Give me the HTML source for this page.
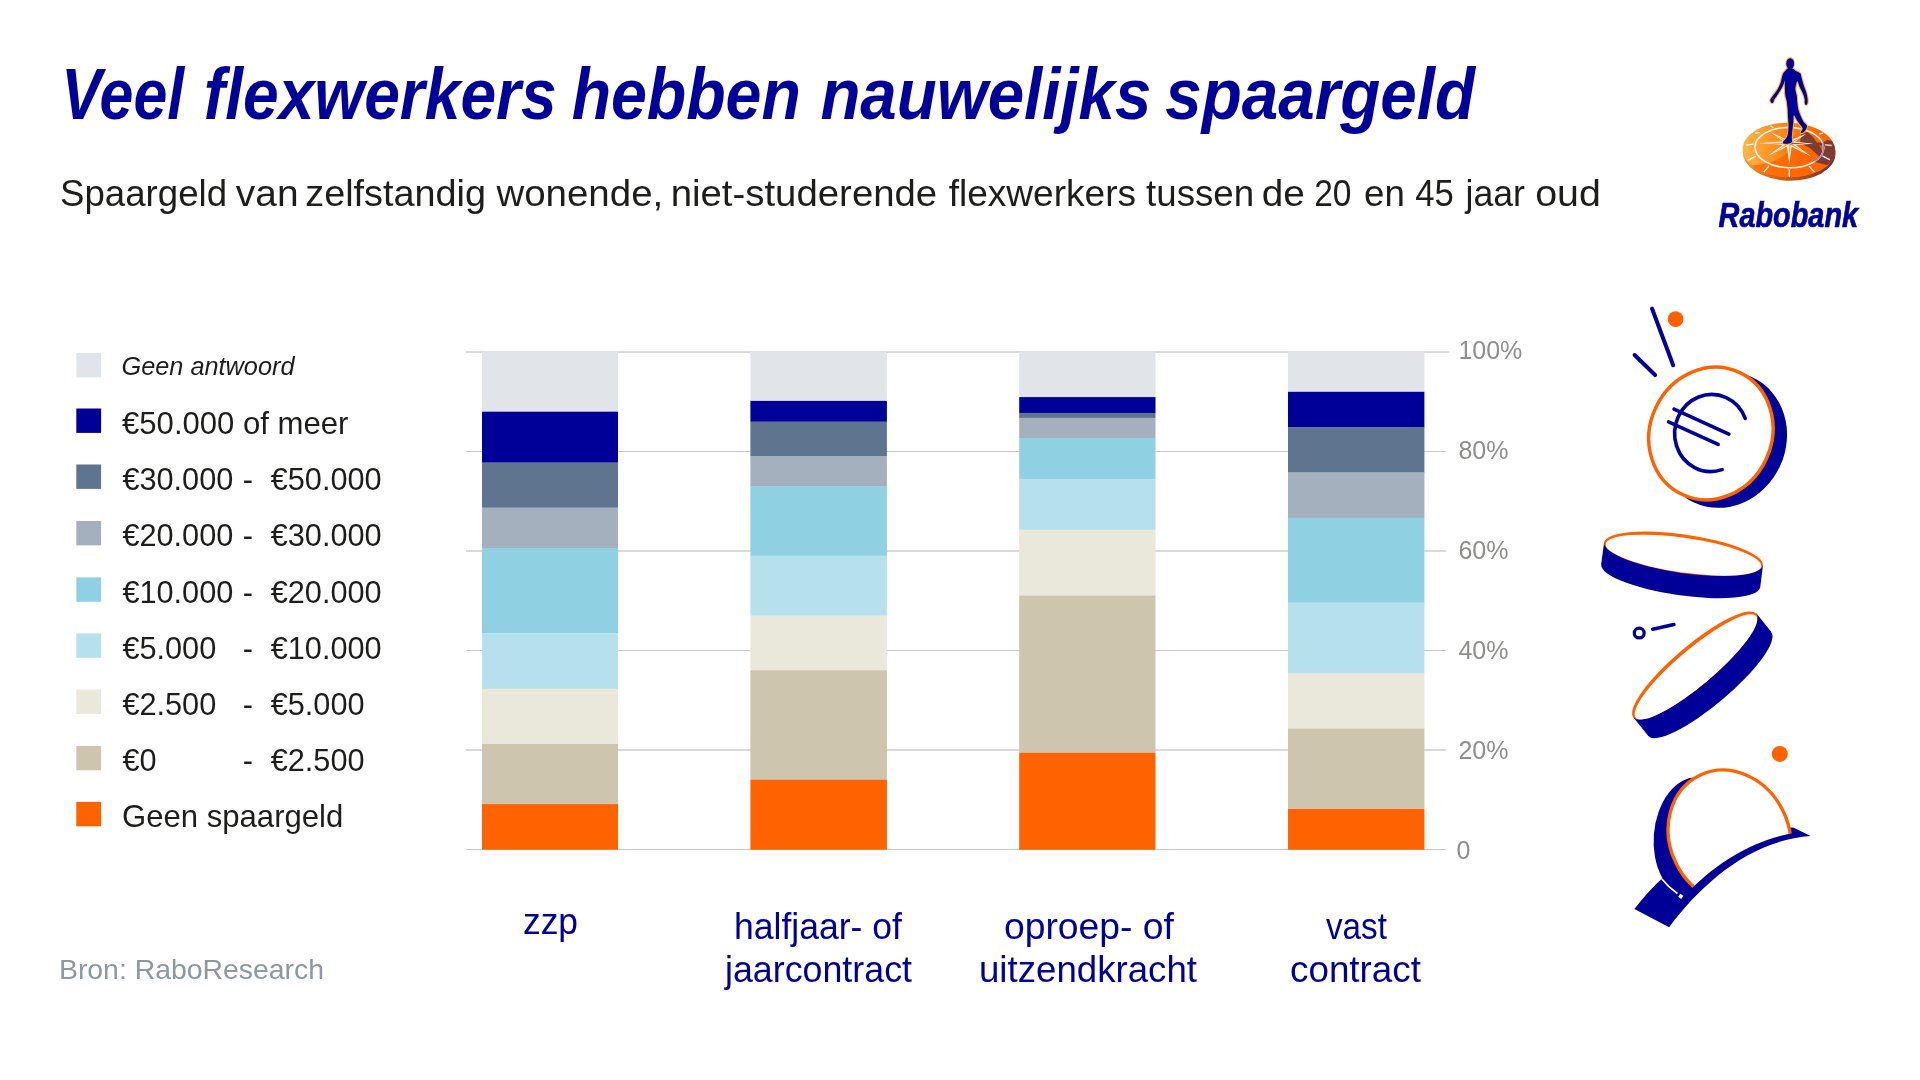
<!DOCTYPE html>
<html lang="nl">
<head>
<meta charset="utf-8">
<title>Veel flexwerkers hebben nauwelijks spaargeld</title>
<style>
  html, body { margin: 0; padding: 0; background: #ffffff; }
  body { width: 1920px; height: 1080px; overflow: hidden; }
  svg { display: block; will-change: transform; }
  text { font-family: "Liberation Sans", sans-serif; }
</style>
</head>
<body>
<svg width="1920" height="1080" viewBox="0 0 1920 1080">
<rect x="0" y="0" width="1920" height="1080" fill="#ffffff"/>

<!-- title -->
<g font-size="71.5" font-weight="bold" font-style="italic" fill="#000099">
<text x="61.28" y="118.7" textLength="122.88" lengthAdjust="spacingAndGlyphs">Veel</text>
<text x="203.87" y="118.7" textLength="352.76" lengthAdjust="spacingAndGlyphs">flexwerkers</text>
<text x="571.68" y="118.7" textLength="229.06" lengthAdjust="spacingAndGlyphs">hebben</text>
<text x="820.39" y="118.7" textLength="331.03" lengthAdjust="spacingAndGlyphs">nauwelijks</text>
<text x="1165.20" y="118.7" textLength="309.81" lengthAdjust="spacingAndGlyphs">spaargeld</text>
</g>
<g font-size="36.8" fill="#1d1d1b">
<text x="60.06" y="206.3" textLength="166.98" lengthAdjust="spacingAndGlyphs">Spaargeld</text>
<text x="235.88" y="206.3" textLength="62.64" lengthAdjust="spacingAndGlyphs">van</text>
<text x="305.27" y="206.3" textLength="180.70" lengthAdjust="spacingAndGlyphs">zelfstandig</text>
<text x="496.40" y="206.3" textLength="166.84" lengthAdjust="spacingAndGlyphs">wonende,</text>
<text x="670.67" y="206.3" textLength="266.56" lengthAdjust="spacingAndGlyphs">niet-studerende</text>
<text x="948.74" y="206.3" textLength="187.26" lengthAdjust="spacingAndGlyphs">flexwerkers</text>
<text x="1146.07" y="206.3" textLength="108.10" lengthAdjust="spacingAndGlyphs">tussen</text>
<text x="1261.76" y="206.3" textLength="43.07" lengthAdjust="spacingAndGlyphs">de</text>
<text x="1314.13" y="206.3" textLength="37.31" lengthAdjust="spacingAndGlyphs">20</text>
<text x="1364.10" y="206.3" textLength="40.79" lengthAdjust="spacingAndGlyphs">en</text>
<text x="1415.15" y="206.3" textLength="38.61" lengthAdjust="spacingAndGlyphs">45</text>
<text x="1465.56" y="206.3" textLength="59.44" lengthAdjust="spacingAndGlyphs">jaar</text>
<text x="1535.18" y="206.3" textLength="65.67" lengthAdjust="spacingAndGlyphs">oud</text>
</g>
<!-- gridlines -->
<g stroke-width="1">
<line x1="466" y1="352.0" x2="1449" y2="352.0" stroke="#b4b4b4"/>
<line x1="466" y1="451.5" x2="1445.8" y2="451.5" stroke="#c8c8c8"/>
<line x1="466" y1="551.0" x2="1445.8" y2="551.0" stroke="#b4b4b4"/>
<line x1="466" y1="650.5" x2="1445.8" y2="650.5" stroke="#c8c8c8"/>
<line x1="466" y1="750.0" x2="1445.8" y2="750.0" stroke="#b4b4b4"/>
<line x1="466" y1="849.5" x2="1445.8" y2="849.5" stroke="#c8c8c8"/>
</g>
<!-- bars -->
<g shape-rendering="geometricPrecision">
<rect x="482.0" y="351.6" width="136.0" height="60.4" fill="#e1e5ea"/>
<rect x="482.0" y="411.7" width="136.0" height="51.1" fill="#000099"/>
<rect x="482.0" y="462.5" width="136.0" height="45.4" fill="#5f748e"/>
<rect x="482.0" y="507.6" width="136.0" height="40.7" fill="#a5b0bf"/>
<rect x="482.0" y="548.0" width="136.0" height="85.5" fill="#90d0e3"/>
<rect x="482.0" y="633.2" width="136.0" height="55.9" fill="#b7e0ed"/>
<rect x="482.0" y="688.8" width="136.0" height="55.5" fill="#eae7db"/>
<rect x="482.0" y="744.0" width="136.0" height="60.4" fill="#cdc5ad"/>
<rect x="482.0" y="804.1" width="136.0" height="45.6" fill="#ff6200"/>
<rect x="750.4" y="351.6" width="136.5" height="49.6" fill="#e1e5ea"/>
<rect x="750.4" y="400.9" width="136.5" height="21.0" fill="#000099"/>
<rect x="750.4" y="421.6" width="136.5" height="34.7" fill="#5f748e"/>
<rect x="750.4" y="456.0" width="136.5" height="30.4" fill="#a5b0bf"/>
<rect x="750.4" y="486.1" width="136.5" height="69.9" fill="#90d0e3"/>
<rect x="750.4" y="555.7" width="136.5" height="60.2" fill="#b7e0ed"/>
<rect x="750.4" y="615.6" width="136.5" height="55.0" fill="#eae7db"/>
<rect x="750.4" y="670.3" width="136.5" height="109.8" fill="#cdc5ad"/>
<rect x="750.4" y="779.8" width="136.5" height="69.9" fill="#ff6200"/>
<rect x="1019.2" y="351.6" width="136.3" height="45.8" fill="#e1e5ea"/>
<rect x="1019.2" y="397.1" width="136.3" height="16.1" fill="#000099"/>
<rect x="1019.2" y="412.9" width="136.3" height="5.2" fill="#5f748e"/>
<rect x="1019.2" y="417.8" width="136.3" height="20.5" fill="#a5b0bf"/>
<rect x="1019.2" y="438.0" width="136.3" height="41.2" fill="#90d0e3"/>
<rect x="1019.2" y="478.9" width="136.3" height="51.1" fill="#b7e0ed"/>
<rect x="1019.2" y="529.7" width="136.3" height="66.3" fill="#eae7db"/>
<rect x="1019.2" y="595.7" width="136.3" height="157.5" fill="#cdc5ad"/>
<rect x="1019.2" y="752.9" width="136.3" height="96.8" fill="#ff6200"/>
<rect x="1288.0" y="351.6" width="136.4" height="40.5" fill="#e1e5ea"/>
<rect x="1288.0" y="391.8" width="136.4" height="35.6" fill="#000099"/>
<rect x="1288.0" y="427.1" width="136.4" height="45.6" fill="#5f748e"/>
<rect x="1288.0" y="472.4" width="136.4" height="45.6" fill="#a5b0bf"/>
<rect x="1288.0" y="517.7" width="136.4" height="85.2" fill="#90d0e3"/>
<rect x="1288.0" y="602.6" width="136.4" height="71.1" fill="#b7e0ed"/>
<rect x="1288.0" y="673.4" width="136.4" height="55.5" fill="#eae7db"/>
<rect x="1288.0" y="728.6" width="136.4" height="80.7" fill="#cdc5ad"/>
<rect x="1288.0" y="809.0" width="136.4" height="40.7" fill="#ff6200"/>
</g>
<!-- y axis labels -->
<g font-size="25" fill="#8e8e8c">
<text x="1458.4" y="359.3">100%</text>
<text x="1458.4" y="459.3">80%</text>
<text x="1458.4" y="559.3">60%</text>
<text x="1458.4" y="659.3">40%</text>
<text x="1458.4" y="759.3">20%</text>
<text x="1456.6" y="859.3">0</text>
</g>
<!-- x axis labels -->
<g font-size="36.5" fill="#000099">
<text x="522.95" y="934.2" textLength="55.12" lengthAdjust="spacingAndGlyphs">zzp</text>
<text x="733.98" y="939.4" textLength="168.02" lengthAdjust="spacingAndGlyphs">halfjaar- of</text>
<text x="724.98" y="981.8" textLength="187.02" lengthAdjust="spacingAndGlyphs">jaarcontract</text>
<text x="1003.98" y="939.4" textLength="170.01" lengthAdjust="spacingAndGlyphs">oproep- of</text>
<text x="978.98" y="981.8" textLength="218.02" lengthAdjust="spacingAndGlyphs">uitzendkracht</text>
<text x="1325.98" y="939.4" textLength="61.03" lengthAdjust="spacingAndGlyphs">vast</text>
<text x="1289.99" y="981.8" textLength="131.02" lengthAdjust="spacingAndGlyphs">contract</text>
</g>
<!-- legend -->
<rect x="76.3" y="353.0" width="24.8" height="24.4" fill="#e1e5ea"/>
<rect x="76.3" y="408.5" width="24.8" height="24.4" fill="#000099"/>
<rect x="76.3" y="464.5" width="24.8" height="24.4" fill="#5f748e"/>
<rect x="76.3" y="521.0" width="24.8" height="24.4" fill="#a5b0bf"/>
<rect x="76.3" y="577.4" width="24.8" height="24.4" fill="#90d0e3"/>
<rect x="76.3" y="633.4" width="24.8" height="24.4" fill="#b7e0ed"/>
<rect x="76.3" y="689.6" width="24.8" height="24.4" fill="#eae7db"/>
<rect x="76.3" y="745.9" width="24.8" height="24.4" fill="#cdc5ad"/>
<rect x="76.3" y="801.9" width="24.8" height="24.4" fill="#ff6200"/>
<g font-size="30.7" fill="#1d1d1b">
<text x="121.5" y="375.3" font-size="25.3" font-style="italic">Geen antwoord</text>
<text x="122.0" y="433.6" font-size="31.1">€50.000 of meer</text>
<text x="122.4" y="489.6">€30.000</text>
<text x="242.8" y="489.6">-</text>
<text x="270.7" y="489.6">€50.000</text>
<text x="122.4" y="546.1">€20.000</text>
<text x="242.8" y="546.1">-</text>
<text x="270.7" y="546.1">€30.000</text>
<text x="122.4" y="602.5">€10.000</text>
<text x="242.8" y="602.5">-</text>
<text x="270.7" y="602.5">€20.000</text>
<text x="122.4" y="658.5">€5.000</text>
<text x="242.8" y="658.5">-</text>
<text x="270.7" y="658.5">€10.000</text>
<text x="122.4" y="714.7">€2.500</text>
<text x="242.8" y="714.7">-</text>
<text x="270.7" y="714.7">€5.000</text>
<text x="122.4" y="771.0">€0</text>
<text x="242.8" y="771.0">-</text>
<text x="270.7" y="771.0">€2.500</text>
<text x="122.0" y="827.0" font-size="31.1">Geen spaargeld</text>
</g>
<text id="bron" x="58.96" y="979.3" font-size="28" fill="#8d989f" textLength="265.05" lengthAdjust="spacingAndGlyphs">Bron: RaboResearch</text>
<!-- ===== Rabobank logo ===== -->
<defs>
  <linearGradient id="discG" x1="0" y1="0" x2="1" y2="0">
    <stop offset="0" stop-color="#ffb84e"/>
    <stop offset="0.3" stop-color="#ff9426"/>
    <stop offset="0.6" stop-color="#ff7208"/>
    <stop offset="1" stop-color="#ff6400"/>
  </linearGradient>
  <linearGradient id="rimG" x1="0" y1="0" x2="1" y2="0">
    <stop offset="0" stop-color="#f39a3c"/>
    <stop offset="0.35" stop-color="#d9620f"/>
    <stop offset="0.7" stop-color="#a8481c"/>
    <stop offset="1" stop-color="#5e2c44"/>
  </linearGradient>
  <clipPath id="discClip"><ellipse cx="810" cy="507" rx="736" ry="432" transform="rotate(1.6 810 507)"/></clipPath>
</defs>
<g transform="translate(1738 118) scale(0.062963)">
  <ellipse cx="812" cy="556" rx="736" ry="440" transform="rotate(1.6 812 556)" fill="url(#rimG)"/>
  <ellipse cx="810" cy="507" rx="736" ry="432" transform="rotate(1.6 810 507)" fill="url(#discG)"/>
  <g clip-path="url(#discClip)">
    <!-- saturated lower area (gloss boundary) -->
    <path d="M60 760 C420 760 640 690 760 560 L1000 470 L1600 470 L1600 1000 L60 1000 Z" fill="#ff6400" opacity="0.75"/>
    <!-- man shadow -->
    <path d="M985 395 L1005 250 L1100 222 L1185 295 L1255 395 L1385 372 L1410 345 L1500 365 L1560 520 L1520 700 L1400 748 L1200 690 L1290 610 L1150 485 Z" fill="#6d3638" opacity="0.88"/>
    <path d="M1290 425 L1390 470 L1345 545 Z" fill="#ff6a00" opacity="0.8"/>
  </g>
  <!-- ring -->
  <ellipse cx="815" cy="470" rx="545" ry="320" transform="rotate(1.2 815 470)" fill="none" stroke="#ffffff" stroke-width="25" opacity="0.95"/>
  <path d="M1345 395 A545 320 1.2 0 1 1215 690" fill="none" stroke="#9a8fb0" stroke-width="25"/>
  <!-- star -->
  <g fill="#ffffff">
    <path d="M815 150 L858 395 L815 738 L772 395 Z"/>
    <path d="M335 400 L800 365 L1200 410 L800 432 Z"/>
    <path d="M520 225 L838 372 L1170 615 L790 425 Z"/>
    <path d="M1090 245 L835 425 L460 610 L792 372 Z"/>
  </g>
  <g fill="#ff7a12">
    <path d="M815 260 L836 395 L815 640 Z"/>
    <path d="M450 402 L790 388 L790 418 Z" opacity="0.8"/>
    <path d="M1120 408 L830 388 L830 418 Z" fill="#8c5a5a"/>
    <path d="M600 272 L815 385 L798 405 Z" opacity="0.8"/>
    <path d="M1090 565 L830 392 L812 412 Z" opacity="0.8"/>
    <path d="M1020 292 L828 412 L810 390 Z" opacity="0.8"/>
    <path d="M545 565 L812 412 L796 392 Z" opacity="0.8"/>
  </g>
  <!-- ticks -->
  <g stroke="#ffffff" stroke-width="22" opacity="0.92">
    <line x1="815" y1="812" x2="815" y2="935"/>
    <line x1="492" y1="760" x2="410" y2="860"/>
    <line x1="1130" y1="765" x2="1215" y2="860"/>
    <line x1="285" y1="605" x2="165" y2="670"/>
    <line x1="245" y1="415" x2="130" y2="430"/>
    <line x1="345" y1="232" x2="275" y2="242"/>
    <line x1="515" y1="125" x2="562" y2="152"/>
    <line x1="1290" y1="255" x2="1352" y2="240"/>
    <line x1="1340" y1="600" x2="1460" y2="665"/>
  </g>
  <line x1="1380" y1="425" x2="1490" y2="436" stroke="#e8c8b0" stroke-width="22"/>
</g>
<!-- man -->
<defs><filter id="glow" x="-20%" y="-10%" width="140%" height="120%"><feGaussianBlur stdDeviation="4"/></filter></defs>
<g transform="translate(1755 50) scale(0.097222)">
  <g fill="none" stroke="#ffb020" stroke-width="22" stroke-linejoin="round" filter="url(#glow)" opacity="0.95">
    <path d="M340 188 C328 192 320 206 312 215 C304 224 296 228 290 240 C284 252 280 273 275 290 C270 307 269 322 262 340 C255 358 245 382 235 400 C225 418 211 435 200 450 C189 465 177 480 170 490 C163 500 159 502 158 510 C157 518 159 529 162 535 C165 541 171 545 176 545 C181 545 186 540 190 535 C194 530 191 523 197 512 C203 501 214 487 225 470 C236 453 253 430 265 410 C277 390 288 366 295 350 C302 334 303 304 305 312 C307 320 307 374 308 400 C309 426 309 450 312 470 C315 490 321 498 325 520 C329 542 332 570 335 600 C338 630 338 670 340 700 C342 730 345 755 345 780 C345 805 343 830 340 850 C337 870 333 884 325 900 C317 916 295 935 290 945 C285 955 286 959 296 962 C306 965 336 965 350 962 C364 959 375 955 380 945 C385 935 377 921 378 900 C379 879 382 847 385 820 C388 793 392 765 395 740 C398 715 394 675 400 672 C406 669 419 704 430 720 C441 736 455 755 465 770 C475 785 489 798 490 810 C491 822 471 838 470 845 C469 852 478 857 486 853 C494 849 512 834 520 822 C528 810 538 794 535 780 C532 766 511 757 500 740 C489 723 479 702 470 680 C461 658 451 633 445 610 C439 587 438 563 435 540 C432 517 433 493 430 470 C427 447 414 425 415 400 C416 375 428 325 435 322 C442 319 451 360 460 380 C469 400 482 420 490 440 C498 460 506 482 510 500 C514 518 510 534 512 545 C514 556 520 566 525 566 C530 566 538 556 540 545 C542 534 542 519 540 500 C538 481 532 453 525 430 C518 407 508 383 500 360 C492 337 486 310 480 290 C474 270 475 252 465 240 C455 228 433 223 420 215 C407 207 398 194 385 190 C372 186 352 184 340 188 Z"/>
    <ellipse cx="362" cy="140" rx="40" ry="56"/>
  </g>
  <path d="M340 188 C328 192 320 206 312 215 C304 224 296 228 290 240 C284 252 280 273 275 290 C270 307 269 322 262 340 C255 358 245 382 235 400 C225 418 211 435 200 450 C189 465 177 480 170 490 C163 500 159 502 158 510 C157 518 159 529 162 535 C165 541 171 545 176 545 C181 545 186 540 190 535 C194 530 191 523 197 512 C203 501 214 487 225 470 C236 453 253 430 265 410 C277 390 288 366 295 350 C302 334 303 304 305 312 C307 320 307 374 308 400 C309 426 309 450 312 470 C315 490 321 498 325 520 C329 542 332 570 335 600 C338 630 338 670 340 700 C342 730 345 755 345 780 C345 805 343 830 340 850 C337 870 333 884 325 900 C317 916 295 935 290 945 C285 955 286 959 296 962 C306 965 336 965 350 962 C364 959 375 955 380 945 C385 935 377 921 378 900 C379 879 382 847 385 820 C388 793 392 765 395 740 C398 715 394 675 400 672 C406 669 419 704 430 720 C441 736 455 755 465 770 C475 785 489 798 490 810 C491 822 471 838 470 845 C469 852 478 857 486 853 C494 849 512 834 520 822 C528 810 538 794 535 780 C532 766 511 757 500 740 C489 723 479 702 470 680 C461 658 451 633 445 610 C439 587 438 563 435 540 C432 517 433 493 430 470 C427 447 414 425 415 400 C416 375 428 325 435 322 C442 319 451 360 460 380 C469 400 482 420 490 440 C498 460 506 482 510 500 C514 518 510 534 512 545 C514 556 520 566 525 566 C530 566 538 556 540 545 C542 534 542 519 540 500 C538 481 532 453 525 430 C518 407 508 383 500 360 C492 337 486 310 480 290 C474 270 475 252 465 240 C455 228 433 223 420 215 C407 207 398 194 385 190 C372 186 352 184 340 188 Z" fill="#000099"/>
  <ellipse cx="362" cy="140" rx="40" ry="56" fill="#000099"/>
</g>
<text id="rabo" x="1718.6" y="226.8" font-size="34.5" font-weight="bold" font-style="italic" fill="#000099" stroke="#000099" stroke-width="0.7" textLength="139.5" lengthAdjust="spacingAndGlyphs">Rabobank</text>

<!-- ===== coin 1 (euro) ===== -->
<g stroke="#000099" stroke-width="4" stroke-linecap="round">
  <line x1="1652" y1="308.5" x2="1673.2" y2="365.3"/>
  <line x1="1634.6" y1="355" x2="1655.1" y2="375"/>
</g>
<circle cx="1675.6" cy="319.1" r="7.9" fill="#ff6200"/>
<g transform="translate(1630 350) scale(0.157407)">
  <ellipse cx="592" cy="571" rx="398" ry="439" transform="rotate(25 592 571)" fill="#000099"/>
  <ellipse cx="514" cy="530" rx="387" ry="428" transform="rotate(25 514 530)" fill="#ffffff" stroke="#ff6200" stroke-width="22"/>
  <g fill="none" stroke="#000099" stroke-width="23" stroke-linecap="round">
    <path d="M732 435 A232 245 7 1 0 585 760"/>
    <line x1="280" y1="375" x2="628" y2="535"/>
    <line x1="245" y1="457" x2="560" y2="600"/>
  </g>
</g>

<!-- ===== coin 2 (flat) + coin 3 (tilted) ===== -->
<g transform="translate(1580 510) scale(0.24074)">
  <!-- coin 2 -->
  <ellipse cx="418" cy="274" rx="333" ry="80" transform="rotate(8.2 418 274)" fill="#000099"/>
  <path d="M100 135 L760 230 L748 325 L88 225 Z" fill="#000099"/>
  <ellipse cx="430" cy="182" rx="333" ry="80" transform="rotate(8.2 430 182)" fill="#ff6200"/>
  <ellipse cx="430" cy="187.5" rx="326" ry="72" transform="rotate(8.2 430 187.5)" fill="#ffffff"/>
  <!-- ring + dash -->
  <circle cx="246" cy="511" r="20.5" fill="#ffffff" stroke="#000099" stroke-width="13.5"/>
  <line x1="302" y1="495" x2="390" y2="476" stroke="#000099" stroke-width="15" stroke-linecap="round"/>
  <!-- coin 3 -->
  <ellipse cx="539" cy="723" rx="334" ry="83" transform="rotate(-40.2 539 723)" fill="#000099"/>
  <path d="M222 862 L733 430 L795 507 L284 939 Z" fill="#000099"/>
  <ellipse cx="477" cy="646" rx="334" ry="83" transform="rotate(-40.2 477 646)" fill="#ff6200"/>
  <ellipse cx="481.5" cy="651.5" rx="327" ry="75" transform="rotate(-40.2 481.5 651.5)" fill="#ffffff"/>
</g>
<circle cx="1779.8" cy="753.9" r="8" fill="#ff6200"/>

<!-- ===== coin 4 (slot) ===== -->
<defs>
  <clipPath id="slotClip">
    <path d="M265 957 L395 740 C543 598 726 487 930 450 L1030 465 L1080 465 L1080 -60 L0 -60 L0 957 Z"/>
  </clipPath>
</defs>
<g transform="translate(1620 750) scale(0.185185)">
  <!-- band -->
  <path d="M78 858 Q150 765 225 695 C420 520 700 430 935 418 L1030 465 C711 486 448 712 265 957 Z" fill="#000099"/>
  <g clip-path="url(#slotClip)">
    <ellipse cx="396.6" cy="471.7" rx="214.3" ry="325" transform="rotate(4.6 396.6 471.7)" fill="#000099"/>
    <ellipse cx="591" cy="469.5" rx="321.6" ry="369.4" transform="rotate(-26 591 469.5)" fill="#ffffff" stroke="#ff6200" stroke-width="18"/>
  </g>
  <path d="M225 695 Q262 742 310 775" fill="none" stroke="#ffffff" stroke-width="9"/>
  <rect x="318" y="780" width="20" height="20" transform="rotate(35 328 790)" fill="#ffffff"/>
</g>

</svg>
</body>
</html>
